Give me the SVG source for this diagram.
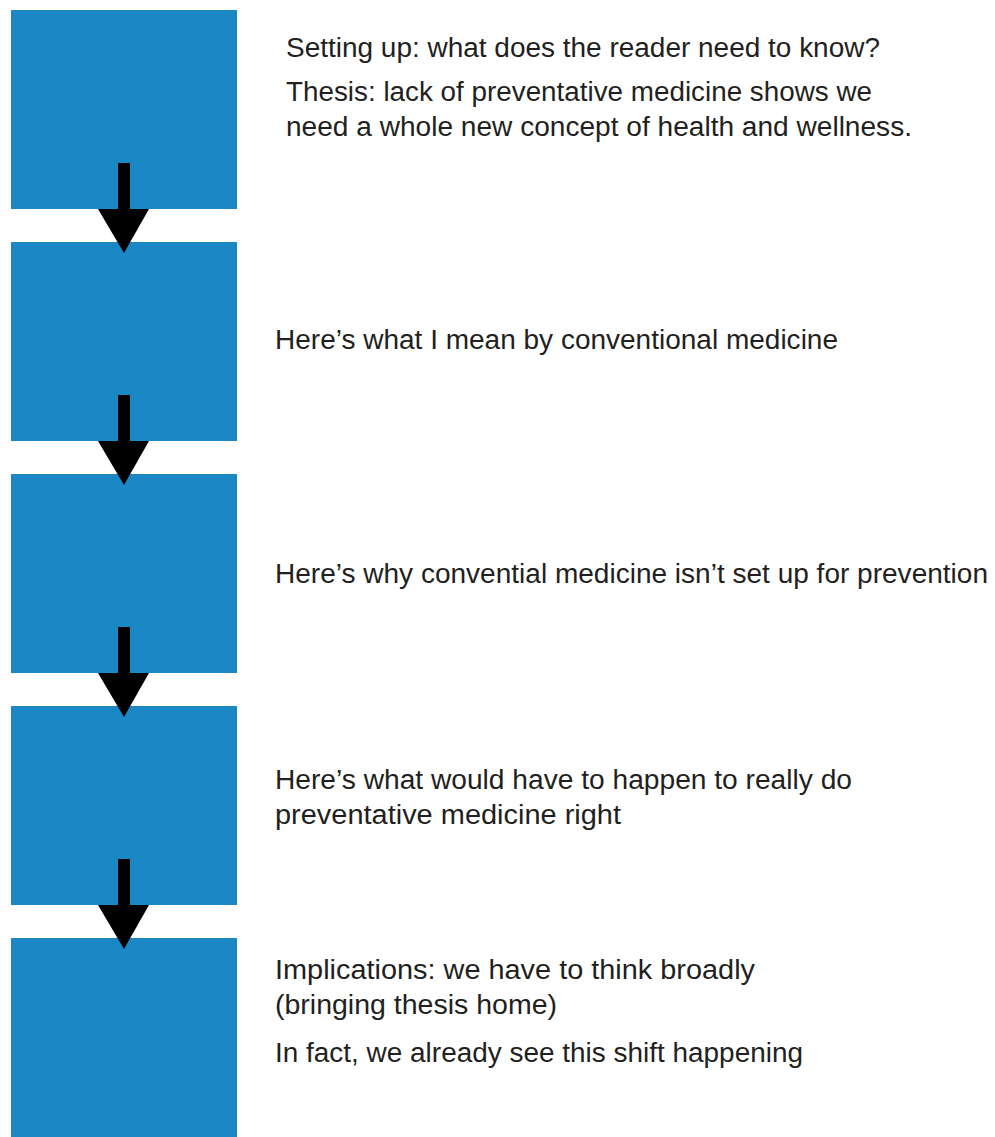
<svg xmlns="http://www.w3.org/2000/svg" width="995" height="1137" viewBox="0 0 995 1137">
<style>
.box{fill:#1b87c5}
.lbl{font-family:"Liberation Sans",Arial,sans-serif;font-size:27px;fill:#231f20}
.arr{fill:#000}
</style>
<rect width="995" height="1137" fill="#fff"/>
<g id="node1">
<rect class="box" x="11" y="10" width="226" height="199"/>
<text class="lbl" x="286" y="57" textLength="594" lengthAdjust="spacingAndGlyphs">Setting up: what does the reader need to know?</text>
<text class="lbl" x="286" y="101" textLength="586" lengthAdjust="spacingAndGlyphs">Thesis: lack of preventative medicine shows we</text>
<text class="lbl" x="286" y="136" textLength="626" lengthAdjust="spacingAndGlyphs">need a whole new concept of health and wellness.</text>
</g>
<g id="node2">
<rect class="box" x="11" y="242" width="226" height="199"/>
<text class="lbl" x="275" y="349" textLength="563" lengthAdjust="spacingAndGlyphs">Here’s what I mean by conventional medicine</text>
</g>
<g id="node3">
<rect class="box" x="11" y="474" width="226" height="199"/>
<text class="lbl" x="275" y="583" textLength="713" lengthAdjust="spacingAndGlyphs">Here’s why convential medicine isn’t set up for prevention</text>
</g>
<g id="node4">
<rect class="box" x="11" y="706" width="226" height="199"/>
<text class="lbl" x="275" y="789" textLength="577" lengthAdjust="spacingAndGlyphs">Here’s what would have to happen to really do</text>
<text class="lbl" x="275" y="824" textLength="346" lengthAdjust="spacingAndGlyphs">preventative medicine right</text>
</g>
<g id="node5">
<rect class="box" x="11" y="938" width="226" height="199"/>
<text class="lbl" x="275" y="979" textLength="480" lengthAdjust="spacingAndGlyphs">Implications: we have to think broadly</text>
<text class="lbl" x="275" y="1014" textLength="282" lengthAdjust="spacingAndGlyphs">(bringing thesis home)</text>
<text class="lbl" x="275" y="1062" textLength="528" lengthAdjust="spacingAndGlyphs">In fact, we already see this shift happening</text>
</g>
<g id="connectors">
<path class="arr" d="M118 163H130V209H149L124 253L98 209H118Z"/>
<path class="arr" d="M118 395H130V441H149L124 485L98 441H118Z"/>
<path class="arr" d="M118 627H130V673H149L124 717L98 673H118Z"/>
<path class="arr" d="M118 859H130V905H149L124 949L98 905H118Z"/>
</g>
</svg>
